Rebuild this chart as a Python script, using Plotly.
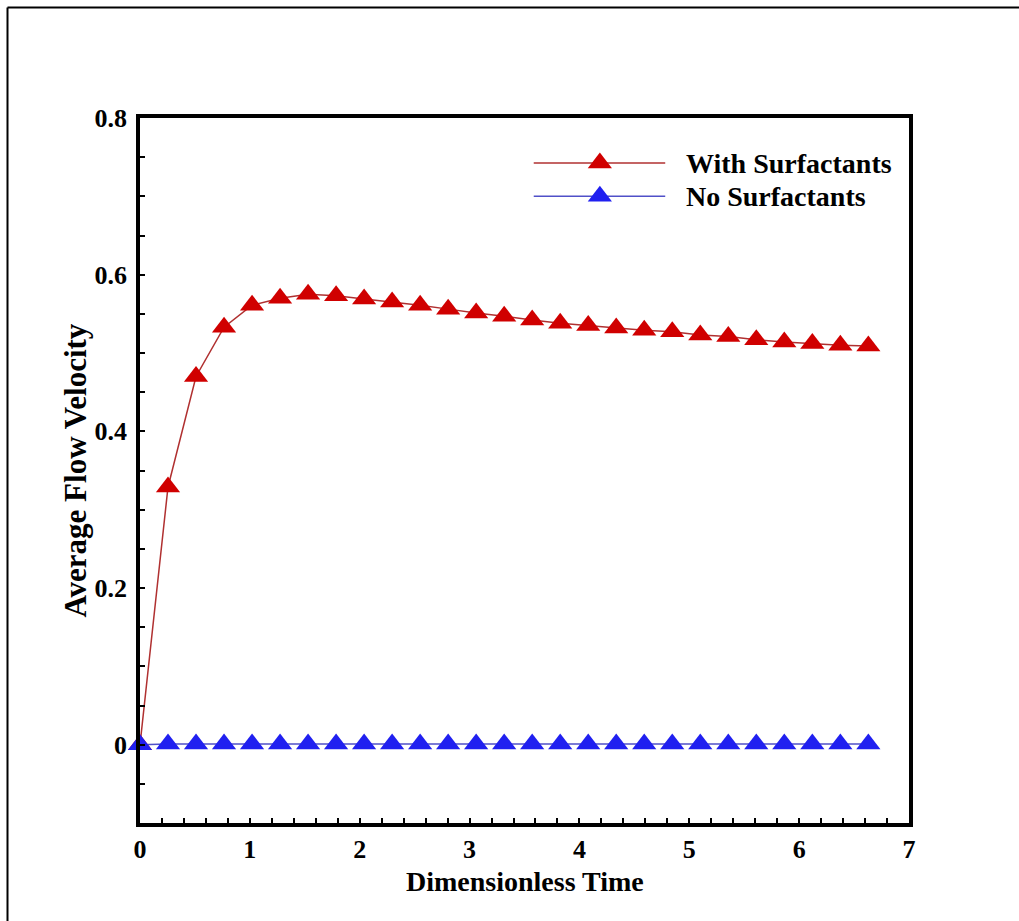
import plotly.graph_objects as go

# ---- data ----
time = [0.0, 0.255, 0.51, 0.765, 1.02, 1.275, 1.53, 1.785, 2.04, 2.295, 2.55, 2.805,
        3.06, 3.315, 3.57, 3.825, 4.08, 4.335, 4.59, 4.845, 5.1, 5.355, 5.61, 5.865,
        6.12, 6.375, 6.63]
with_surf = [0.0, 0.329, 0.470, 0.533, 0.561, 0.570, 0.575, 0.573, 0.569, 0.565, 0.561,
             0.556, 0.551, 0.547, 0.542, 0.538, 0.535, 0.532, 0.529, 0.527, 0.523, 0.521,
             0.517, 0.514, 0.512, 0.510, 0.509]
no_surf = [0.0] + [0.001] * 26
series_names = ["With Surfactants", "No Surfactants"]
y_tickvals = [0, 0.2, 0.4, 0.6, 0.8]
y_ticktext = ["0", "0.2", "0.4", "0.6", "0.8"]
x_tickvals = [0, 1, 2, 3, 4, 5, 6, 7]
x_title = "Dimensionless Time"
y_title = "Average Flow Velocity"

RED_M, RED_L = "#D00000", "#B03030"
BLUE_M, BLUE_L = "#2020F0", "#5050C8"
FONT = "Liberation Serif"
MSIZE = 21

fig = go.Figure()
fig.add_trace(go.Scatter(x=time, y=with_surf, mode="lines+markers", name=series_names[0],
                         line=dict(color=RED_L, width=1.5),
                         marker=dict(symbol="triangle-up", size=MSIZE, color=RED_M),
                         showlegend=False, cliponaxis=False))
fig.add_trace(go.Scatter(x=time, y=no_surf, mode="lines+markers", name=series_names[1],
                         line=dict(color=BLUE_L, width=1.5),
                         marker=dict(symbol="triangle-up", size=MSIZE, color=BLUE_M),
                         showlegend=False, cliponaxis=False))

# ---- manual legend on an overlay axis (0..1 = plot area) ----
leg_rows = [0.936, 0.889]
leg_cols = [(RED_L, RED_M), (BLUE_L, BLUE_M)]
for name, yy, (lc, mc) in zip(series_names, leg_rows, leg_cols):
    fig.add_trace(go.Scatter(x=[0.512, 0.683], y=[yy, yy], mode="lines",
                             line=dict(color=lc, width=1.5), xaxis="x2", yaxis="y2",
                             showlegend=False, hoverinfo="skip"))
    fig.add_trace(go.Scatter(x=[0.598], y=[yy], mode="markers",
                             marker=dict(symbol="triangle-up", size=MSIZE, color=mc),
                             xaxis="x2", yaxis="y2", showlegend=False, hoverinfo="skip"))
    fig.add_annotation(x=0.708, y=yy, xref="paper", yref="paper", text=name,
                       showarrow=False, xanchor="left", yanchor="middle",
                       font=dict(family=FONT, size=28, color="black", weight="bold"))

# axis titles as annotations for exact placement
fig.add_annotation(x=0.5, y=-0.0835, xref="paper", yref="paper", text=x_title,
                   showarrow=False, xanchor="center", yanchor="middle",
                   font=dict(family=FONT, size=28, color="black", weight="bold"))
fig.add_annotation(x=-0.0845, y=0.5, xref="paper", yref="paper", text=y_title,
                   showarrow=False, xanchor="center", yanchor="middle", textangle=-90,
                   font=dict(family=FONT, size=31, color="black", weight="bold"))

axis_common = dict(showline=True, linecolor="black", linewidth=3.5, mirror=True,
                   ticks="inside", ticklen=5, tickwidth=1.5, tickcolor="black",
                   showgrid=False, zeroline=False,
                   tickfont=dict(family=FONT, size=26, color="black", weight="bold"))

fig.update_layout(
    width=1019, height=921,
    margin=dict(l=140, r=110, t=118, b=98),
    paper_bgcolor="white", plot_bgcolor="white",
    xaxis=dict(range=[0, 7], tickvals=x_tickvals,
               minor=dict(dtick=0.2, ticks="inside", ticklen=5, tickwidth=1.5, tickcolor="black"),
               **axis_common),
    yaxis=dict(range=[-0.1, 0.8], tickvals=y_tickvals, ticktext=y_ticktext, ticklabelstandoff=4,
               minor=dict(dtick=0.05, ticks="inside", ticklen=5, tickwidth=1.5, tickcolor="black"),
               **axis_common),
    xaxis2=dict(range=[0, 1], overlaying="x", visible=False),
    yaxis2=dict(range=[0, 1], overlaying="y", visible=False),
    shapes=[
        dict(type="line", xref="paper", yref="paper", x0=-0.1723, x1=1.2, y0=1.1567, y1=1.1567,
             line=dict(color="black", width=2)),
        dict(type="line", xref="paper", yref="paper", x0=-0.1723, x1=-0.1723, y0=1.1567, y1=-0.2,
             line=dict(color="black", width=2)),
    ],
)

fig.write_html("out.html")
